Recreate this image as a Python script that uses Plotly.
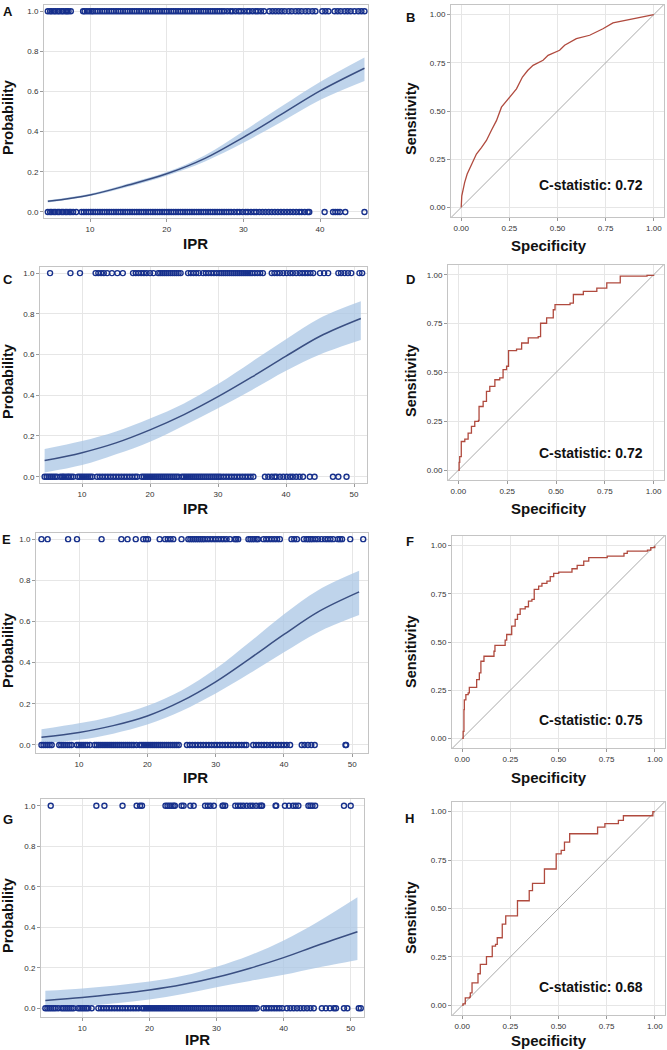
import plotly.graph_objects as go

W, H = 667, 1050

# ---------------- data: logistic panels (A, C, E, G) ----------------
A_pos = [4.5,4.8,5.0,5.3,5.5,5.8,6.0,6.3,6.5,6.8,7.0,7.2,7.5,
         9.1,9.3,9.6,9.9,10.2,10.4,10.7,11.0,11.3,11.6,11.9,
         12.2,12.5,12.8,13.1,13.4,13.7,14.0,14.3,14.6,14.9,15.2,15.5,15.8,
         16.1,16.4,16.7,17.0,17.3,17.6,17.9,18.2,18.5,18.8,19.1,19.4,19.7,20.0,20.3,20.6,20.9,
         21.2,21.5,21.8,22.1,22.4,22.7,23.0,23.3,23.6,23.9,24.2,24.5,24.8,25.1,25.4,25.7,26.0,
         26.3,26.6,26.9,27.2,
         27.5,27.9,28.3,28.6,29.0,29.4,29.7,30.1,30.5,30.8,31.2,31.6,31.9,32.3,32.7,
         33.4,33.8,34.2,34.6,35.0,35.4,35.9,36.3,36.8,37.2,37.6,38.1,38.5,39.0,39.4,
         40.3,40.7,41.1,41.9,42.3,42.7,43.2,43.6,44.0,44.5,45.0,45.4,45.8]
A_neg = [4.5,4.8,5.0,5.3,5.5,5.8,6.0,6.3,6.5,6.8,7.0,7.3,7.5,7.8,8.2,
         8.9,9.2,9.5,9.8,10.1,10.4,10.7,11.0,11.3,11.6,11.9,12.2,12.5,12.8,13.1,13.4,13.7,
         14.0,14.3,14.6,14.9,15.2,15.5,15.8,16.1,16.4,16.7,17.0,17.3,17.6,17.9,18.2,18.5,
         18.8,19.1,19.4,19.7,20.0,20.3,20.6,20.9,21.2,21.5,21.8,22.1,22.4,22.7,23.0,23.3,
         23.6,23.9,24.2,24.5,24.8,25.1,25.4,25.7,26.0,26.3,26.6,26.9,27.2,27.5,27.8,28.1,28.4,
         28.8,29.2,29.5,29.9,30.3,30.6,31.0,31.4,31.7,32.1,32.5,32.9,33.3,33.7,34.1,34.5,
         34.9,35.3,35.7,36.1,36.5,36.9,
         37.3,37.6,38.0,38.4,38.6,40.6,41.7,42.0,42.3,42.6,43.3,45.8]
A_cx = [4.5, 10, 15, 20, 25, 30, 35, 40, 45.8]
A_p  = [0.053, 0.085, 0.134, 0.19, 0.267, 0.372, 0.487, 0.603, 0.716]
A_lo = [0.047, 0.079, 0.126, 0.181, 0.252, 0.345, 0.45, 0.558, 0.653]
A_hi = [0.059, 0.091, 0.142, 0.199, 0.283, 0.402, 0.527, 0.648, 0.77]

C_pos = [5.3, 8.3, 9.7, 12.0,12.4,12.8,13.2,13.7, 14.4, 15.2, 16.0,
         17.5,17.9,18.3,18.7,19.1,19.5,20.0,20.5,
         21.2,21.5,21.8,22.1,22.4,22.7,23.0,23.3,23.6,23.9,24.2,24.5,
         25.6,26.0,26.4,26.8,27.2, 27.8,28.2,28.6,29.0,29.4,29.8,30.2,
         30.5,30.8,31.1,31.4,31.7,32.0,32.3,32.6,32.9,33.2,33.5,33.8,34.1,34.4,34.7,35.0,
         35.4,35.8,36.2,36.6, 37.9,38.3,38.7,39.1,39.6,
         40.1,40.6,41.0,41.5,42.0,42.4,42.8,43.2,43.6,44.0,
         45.0,45.6,46.2, 47.7,48.1, 48.6,49.1,49.6, 50.8,51.2]
C_neg = [4.5,4.8,5.1,5.4,5.7,6.0,6.3, 6.8,7.1,7.3,7.6,7.9,8.1,8.4,8.7,
         9.4,9.7,10.0,10.3,10.6,10.9,11.2,11.5,
         12.2,12.6,13.0,13.4,13.8,14.2,14.6,15.0,15.4,15.8,16.2,16.6,17.0,17.4,17.8,18.1,
         18.8,19.1,19.4,19.7,20.0,20.3,20.6,20.9,21.2,21.5,21.8,22.1,22.4,22.7,23.0,23.3,
         23.6,23.9,24.2,
         24.7,25.0,25.3,25.6,25.9,26.2,26.5,26.8,27.1,27.4,27.7,28.0,28.3,28.6,28.9,29.2,
         29.5,29.8,30.1,
         30.4,30.8,31.2,31.6,32.0,32.4,32.8,33.2,33.6,34.0,34.4,34.8,35.2,
         36.9,37.4,37.9,38.3,38.6, 39.1,39.6,40.1,40.6, 41.0,41.5,42.0,42.5,
         43.5,44.2, 46.9,47.7, 48.9]
C_cx = [4.5, 10, 15, 20, 25, 30, 35, 40, 45, 51]
C_p  = [0.079, 0.118, 0.166, 0.23, 0.305, 0.393, 0.49, 0.592, 0.69, 0.777]
C_lo = [0.021, 0.057, 0.11, 0.172, 0.252, 0.336, 0.426, 0.52, 0.6, 0.671]
C_hi = [0.136, 0.175, 0.222, 0.286, 0.36, 0.455, 0.565, 0.675, 0.78, 0.862]

E_pos = [4.5,5.4, 8.4, 9.7, 13.3, 16.2,17.1, 18.3, 19.4,19.8,20.1, 21.8,
         22.6,23.0,23.4,23.8, 25.0, 26.0,26.3,26.6,26.9,27.2,
         27.5,27.8,28.1,28.4,28.8,29.2,29.6,30.0,30.4,30.8,31.2,31.6,32.1,
         32.8,33.0,33.3, 34.8,35.1,35.4,35.7,36.0,36.2,
         37.0,37.4,37.8,38.2,38.6,39.0,39.4, 41.1,41.5,41.9,
         42.9,43.3,43.6,43.9,44.2,44.6,45.0, 45.5,46.0,46.4,46.8,47.2,
         47.9,48.2,48.5, 49.7, 51.6]
E_neg = [4.5,4.8,5.1,5.4,5.7,6.0, 7.1,7.4,7.7,8.0,8.3,8.6,8.9,
         9.7,10.0,10.3,10.6,10.9,11.2,11.6,
         12.3,12.6,12.9,13.2,13.5,13.8,14.1,14.4,14.7,15.0,15.3,15.6,15.9,16.2,16.5,16.8,
         17.1,17.4,17.7,18.0,18.4,
         18.9,19.2,19.5,19.8,20.1,20.4,20.7,21.0,21.3,21.6,21.9,22.2,22.5,22.8,23.1,23.4,
         23.7,24.0,24.3,24.6,
         25.8,26.2,26.6,27.0,27.4,27.8,28.2,28.6,29.0,29.4,29.8,30.2,30.6,31.0,31.4,31.8,
         32.2,32.6,33.0,33.4,33.8,34.2,34.5,
         35.5,35.9,36.3,36.7,37.1,37.5, 38.0,38.4,38.8,39.2,39.6,40.0,40.4,40.9,
         42.6,43.0,43.5,44.0,44.5, 49.0,49.1]
E_cx = [4.5, 10, 15, 20, 25, 30, 35, 40, 45, 51]
E_p  = [0.037, 0.061, 0.094, 0.141, 0.213, 0.307, 0.42, 0.537, 0.647, 0.744]
E_lo = [0.008, 0.025, 0.055, 0.099, 0.165, 0.25, 0.348, 0.45, 0.548, 0.631]
E_hi = [0.076, 0.105, 0.14, 0.19, 0.265, 0.37, 0.5, 0.635, 0.752, 0.846]

G_pos = [5.3, 12.1, 13.3, 16.0, 18.1,18.6,18.9, 22.4,22.7,23.0,23.3,23.6,23.8,
         24.8,25.1, 26.1,26.6, 28.3,28.7,29.1,29.6, 30.9,31.0,31.3,
         32.8,33.2,33.6,34.0,34.5, 35.0,35.4,35.9,36.4,36.7,36.8, 38.8,38.9,
         40.2,40.8,41.4,41.8,42.2, 43.7,44.0,44.3,44.7, 49.0, 50.0]
G_neg = [4.5,4.8,5.1,5.4,5.7,6.0,6.4, 6.9,7.2,7.5,7.8,8.1,8.4,8.7,
         9.4,9.7,10.0,10.3,10.6,10.9,11.4,
         12.4,12.8,13.2,13.6,14.0,14.4,14.8,15.2,15.6,16.0,16.4,16.8,17.2,17.6,18.0,18.4,
         18.9,19.2,19.5,19.8,20.1,20.4,20.7,21.0,21.3,21.6,21.9,22.2,22.5,22.8,23.1,23.4,
         23.7,24.0,24.3,24.6,24.9,25.2,25.5,25.8,26.1,26.4,26.7,27.0,27.3,27.6,27.9,28.2,
         28.5,28.8,29.1,29.4,29.7,30.0,30.3,30.6,30.9,31.2,31.5,31.8,32.1,32.4,32.7,33.0,
         33.3,33.6,33.9,34.2,34.5,34.8,35.1,35.4,35.7,36.0,
         37.0,37.4,37.8,38.2,38.6,39.0,39.4,39.8,
         40.5,41.0,41.5,42.0,42.5,43.0,43.5,44.0,44.5,
         45.7,46.3,46.9,47.5,47.8, 49.0,49.5, 51.2,51.5]
G_cx = [4.5, 10, 15, 20, 25, 30, 35, 40, 45, 51]
G_p  = [0.039, 0.053, 0.07, 0.09, 0.117, 0.153, 0.198, 0.25, 0.31, 0.378]
G_lo = [0.003, 0.012, 0.025, 0.043, 0.07, 0.104, 0.135, 0.165, 0.2, 0.238]
G_hi = [0.086, 0.098, 0.113, 0.132, 0.16, 0.205, 0.262, 0.335, 0.425, 0.548]

# ---------------- data: ROC panels (B, D, F, H) ----------------
B_fpr = [0, 0.003, 0.018, 0.031, 0.055, 0.079, 0.105, 0.131, 0.157, 0.183, 0.209, 0.252,
         0.287, 0.318, 0.345, 0.373, 0.425, 0.451, 0.511, 0.537, 0.598, 0.667, 0.736,
         0.788, 0.874, 0.96, 1.0]
B_tpr = [0, 0.06, 0.13, 0.173, 0.225, 0.277, 0.31, 0.347, 0.40, 0.45, 0.52, 0.572,
         0.615, 0.676, 0.71, 0.737, 0.763, 0.789, 0.815, 0.841, 0.875, 0.893, 0.927,
         0.957, 0.974, 0.991, 1.0]
B_c = "C-statistic: 0.72"

D_fpr = [0, 0.004, 0.007, 0.015, 0.033, 0.05, 0.067, 0.084, 0.103, 0.106, 0.127, 0.144,
         0.161, 0.187, 0.212, 0.229, 0.247, 0.257, 0.298, 0.324, 0.358, 0.409, 0.421,
         0.452, 0.486, 0.495, 0.572, 0.589, 0.64, 0.709, 0.76, 0.829, 0.966, 1.0]
D_tpr = [0, 0.04, 0.07, 0.147, 0.159, 0.19, 0.224, 0.25, 0.255, 0.326, 0.352, 0.403,
         0.429, 0.463, 0.472, 0.515, 0.532, 0.612, 0.62, 0.651, 0.677, 0.684, 0.752,
         0.779, 0.821, 0.847, 0.855, 0.899, 0.915, 0.932, 0.959, 0.993, 0.997, 1.0]
D_c = "C-statistic: 0.72"

F_fpr = [0, 0.005, 0.009, 0.011, 0.019, 0.031, 0.037, 0.066, 0.075, 0.089, 0.097, 0.113,
         0.153, 0.165, 0.17, 0.214, 0.223, 0.231, 0.249, 0.257, 0.275, 0.287, 0.301,
         0.327, 0.344, 0.362, 0.374, 0.397, 0.414, 0.44, 0.457, 0.475, 0.501, 0.553,
         0.57, 0.597, 0.631, 0.657, 0.753, 0.84, 0.857, 0.962, 0.979, 1.0]
F_tpr = [0, 0.036, 0.149, 0.2, 0.227, 0.236, 0.265, 0.265, 0.305, 0.34, 0.4, 0.426,
         0.426, 0.452, 0.482, 0.482, 0.51, 0.539, 0.539, 0.582, 0.617, 0.643, 0.672,
         0.683, 0.712, 0.721, 0.773, 0.79, 0.804, 0.816, 0.839, 0.856, 0.863, 0.863,
         0.88, 0.898, 0.92, 0.938, 0.946, 0.96, 0.972, 0.977, 0.99, 1.0]
F_c = "C-statistic: 0.75"

H_fpr = [0, 0.004, 0.016, 0.038, 0.042, 0.051, 0.077, 0.082, 0.094, 0.121, 0.126, 0.147,
         0.156, 0.173, 0.182, 0.199, 0.208, 0.226, 0.278, 0.287, 0.339, 0.348, 0.365,
         0.40, 0.427, 0.47, 0.488, 0.514, 0.531, 0.558, 0.689, 0.703, 0.741, 0.802,
         0.811, 0.837, 0.986, 0.99, 1.0]
H_tpr = [0, 0.007, 0.038, 0.042, 0.064, 0.116, 0.116, 0.163, 0.211, 0.211, 0.251, 0.251,
         0.306, 0.315, 0.349, 0.349, 0.419, 0.462, 0.462, 0.54, 0.54, 0.592, 0.63,
         0.63, 0.704, 0.704, 0.782, 0.80, 0.843, 0.886, 0.886, 0.92, 0.938, 0.938,
         0.955, 0.979, 0.979, 1.0, 1.0]
H_c = "C-statistic: 0.68"

prob_ticks = [0.0, 0.2, 0.4, 0.6, 0.8, 1.0]
roc_ticks = [0.0, 0.25, 0.5, 0.75, 1.0]
A_xticks = [10, 20, 30, 40]
CEG_xticks = [10, 20, 30, 40, 50]

# ---------------- styling / layout ----------------
FONT = "Liberation Sans, Arial, sans-serif"
PT_COLOR = "#17308c"
LINE_COLOR = "#3a4f82"
BAND_COLOR = "rgba(170,198,228,0.75)"
ROC_COLOR = "#b04a3e"
GRID = "#e6e6e6"
FRAME = "#c4c4c4"

def fx(p):
    return p / W

def fy(p):
    return 1 - p / H

fig = go.Figure()
annotations = []
layout_axes = {}

# panel boxes in pixels: (left, right, top, bottom)
prob_panels = [
    ("A", A_pos, A_neg, A_cx, A_p, A_lo, A_hi, (44, 368, 5, 218), [4.0, 46.26], [-0.03, 1.031], A_xticks,
     (195, 244), (8, 118), (7.5, 11)),
    ("C", C_pos, C_neg, C_cx, C_p, C_lo, C_hi, (40, 367, 267, 483), [3.82, 51.91], [-0.031, 1.03], CEG_xticks,
     (195, 508), (8, 382), (7.5, 279)),
    ("E", E_pos, E_neg, E_cx, E_p, E_lo, E_hi, (36, 368, 533, 753), [3.7, 52.3], [-0.039, 1.03], CEG_xticks,
     (195, 777), (8, 651), (6.5, 539)),
    ("G", G_pos, G_neg, G_cx, G_p, G_lo, G_hi, (41, 364, 799, 1017), [3.85, 51.98], [-0.043, 1.033], CEG_xticks,
     (197, 1039), (8, 916), (7.5, 819)),
]
roc_panels = [
    ("B", B_fpr, B_tpr, B_c, (451, 664, 5, 217), "linear", (549, 245), (411, 118), (411, 18), (591, 185)),
    ("D", D_fpr, D_tpr, D_c, (448, 664, 265, 480), "hv", (549, 508), (411, 380), (410, 279), (591, 453)),
    ("F", F_fpr, F_tpr, F_c, (452, 665, 536, 748), "hv", (549, 777), (411, 651), (410, 541), (591, 720)),
    ("H", H_fpr, H_tpr, H_c, (452, 665, 802, 1015), "hv", (549, 1040), (411, 917), (409, 818), (591, 987)),
]

def axis_common():
    return dict(showgrid=True, gridcolor=GRID, gridwidth=1, zeroline=False,
                showline=True, mirror=True, linecolor=FRAME, linewidth=1,
                ticks="outside", ticklen=3, tickcolor="#9a9a9a",
                tickfont=dict(family=FONT, size=8, color="#333333"))

def add_title_annots(xt, yt, xt_pos, yt_pos, lab, lab_pos):
    annotations.append(dict(text="<b>%s</b>" % xt, x=fx(xt_pos[0]), y=fy(xt_pos[1]), xref="paper", yref="paper",
                            showarrow=False, font=dict(family=FONT, size=15, color="#111111"),
                            xanchor="center", yanchor="middle"))
    annotations.append(dict(text="<b>%s</b>" % yt, x=fx(yt_pos[0]), y=fy(yt_pos[1]), xref="paper", yref="paper",
                            showarrow=False, textangle=-90, font=dict(family=FONT, size=14.5, color="#111111"),
                            xanchor="center", yanchor="middle"))
    annotations.append(dict(text="<b>%s</b>" % lab, x=fx(lab_pos[0]), y=fy(lab_pos[1]), xref="paper", yref="paper",
                            showarrow=False, font=dict(family=FONT, size=13, color="#111111"),
                            xanchor="center", yanchor="middle"))

order = [prob_panels[0], roc_panels[0], prob_panels[1], roc_panels[1],
         prob_panels[2], roc_panels[2], prob_panels[3], roc_panels[3]]
for idx, panel in enumerate(order, start=1):
    xa = "x" if idx == 1 else "x%d" % idx
    ya = "y" if idx == 1 else "y%d" % idx
    xkey = "xaxis" if idx == 1 else "xaxis%d" % idx
    ykey = "yaxis" if idx == 1 else "yaxis%d" % idx
    if panel[0] in "ACEG":
        lab, pos, neg, cx, p, lo, hi, box, xr, yr, xt, xt_pos, yt_pos, lab_pos = panel
        l, r, t, b = box
        fig.add_trace(go.Scatter(x=cx, y=lo, mode="lines", line=dict(width=0, shape="spline", color=BAND_COLOR),
                                 xaxis=xa, yaxis=ya, showlegend=False, hoverinfo="skip"))
        fig.add_trace(go.Scatter(x=cx, y=hi, mode="lines", line=dict(width=0, shape="spline", color=BAND_COLOR),
                                 fill="tonexty", fillcolor=BAND_COLOR,
                                 xaxis=xa, yaxis=ya, showlegend=False, hoverinfo="skip"))
        fig.add_trace(go.Scatter(x=cx, y=p, mode="lines", line=dict(width=1.5, shape="spline", color=LINE_COLOR),
                                 xaxis=xa, yaxis=ya, showlegend=False))
        fig.add_trace(go.Scatter(x=pos, y=[1.0] * len(pos), mode="markers",
                                 marker=dict(symbol="circle-open", size=5, color=PT_COLOR, line=dict(width=1.4)),
                                 xaxis=xa, yaxis=ya, showlegend=False, cliponaxis=False))
        fig.add_trace(go.Scatter(x=neg, y=[0.0] * len(neg), mode="markers",
                                 marker=dict(symbol="circle-open", size=5, color=PT_COLOR, line=dict(width=1.4)),
                                 xaxis=xa, yaxis=ya, showlegend=False, cliponaxis=False))
        xd = axis_common()
        xd.update(domain=[fx(l), fx(r)], range=xr, tickvals=xt, anchor=ya)
        yd = axis_common()
        yd.update(domain=[fy(b), fy(t)], range=yr, tickvals=prob_ticks, tickformat=".1f", anchor=xa)
        layout_axes[xkey] = xd
        layout_axes[ykey] = yd
        add_title_annots("IPR", "Probability", xt_pos, yt_pos, lab, lab_pos)
    else:
        lab, fpr, tpr, ctext, box, shape, xt_pos, yt_pos, lab_pos, c_pos = panel
        l, r, t, b = box
        fig.add_trace(go.Scatter(x=[-0.06, 1.06], y=[-0.06, 1.06], mode="lines",
                                 line=dict(width=1, color="#a9a9a9"), xaxis=xa, yaxis=ya, showlegend=False))
        fig.add_trace(go.Scatter(x=fpr, y=tpr, mode="lines", line=dict(width=1.3, color=ROC_COLOR, shape=shape),
                                 xaxis=xa, yaxis=ya, showlegend=False))
        xd = axis_common()
        xd.update(domain=[fx(l), fx(r)], range=[-0.053, 1.053], tickvals=roc_ticks, tickformat=".2f", anchor=ya)
        yd = axis_common()
        yd.update(domain=[fy(b), fy(t)], range=[-0.05, 1.05], tickvals=roc_ticks, tickformat=".2f", anchor=xa)
        layout_axes[xkey] = xd
        layout_axes[ykey] = yd
        add_title_annots("Specificity", "Sensitivity", xt_pos, yt_pos, lab, lab_pos)
        annotations.append(dict(text="<b>%s</b>" % ctext, x=fx(c_pos[0]), y=fy(c_pos[1]), xref="paper",
                                yref="paper", showarrow=False,
                                font=dict(family=FONT, size=14, color="#111111"),
                                xanchor="center", yanchor="middle"))

fig.update_layout(width=W, height=H, margin=dict(l=0, r=0, t=0, b=0),
                  paper_bgcolor="white", plot_bgcolor="white",
                  font=dict(family=FONT), showlegend=False, annotations=annotations, **layout_axes)

fig.write_html("out.html", config={"displayModeBar": False},
               post_script="document.body.style.margin='0';document.body.style.padding='0';"
                           "document.documentElement.style.overflow='hidden';")
